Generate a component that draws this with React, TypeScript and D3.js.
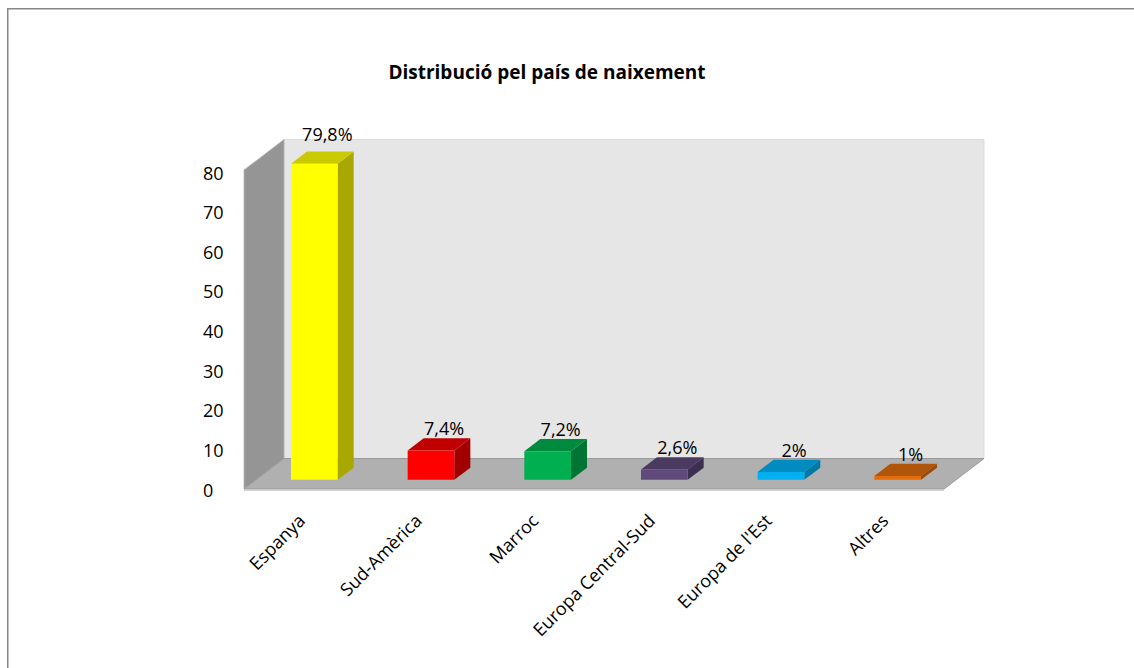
import React from "react";
import * as d3 from "d3";

const categories = ["Espanya", "Sud-Amèrica", "Marroc", "Europa Central-Sud", "Europa de l'Est", "Altres"];
const values = [79.8, 7.4, 7.2, 2.6, 2, 1];
const valueLabels = ["79,8%", "7,4%", "7,2%", "2,6%", "2%", "1%"];
const yTicks = [0, 10, 20, 30, 40, 50, 60, 70, 80];
const title = "Distribució pel país de naixement";

const frontColors = ["#ffff00", "#ff0000", "#00b050", "#604a7b", "#00b0f0", "#e46c0a"];
const topColors = ["#caca00", "#c00000", "#008a3e", "#4a3a60", "#008cc0", "#b0560a"];
const sideColors = ["#a8a800", "#a00000", "#007433", "#3d2f50", "#0078a6", "#9a4a08"];

const W = 1134;
const H = 668;
const FONT = "'Open Sans', Lato, sans-serif";

// 3D geometry
const floorLeft = 244;
const floorRight = 944;
const floorY = 489;
const DX = 40;
const DY = -30.5;
const barD0 = 0.3;
const barD1 = 0.7;

export default function App() {
  const x = d3
    .scaleBand<string>()
    .domain(categories)
    .range([floorLeft, floorRight])
    .paddingInner(0.6)
    .paddingOuter(0.3);
  const xc = d3
    .scalePoint<string>()
    .domain(categories)
    .range([floorLeft, floorRight])
    .padding(0.5);
  const y = d3.scaleLinear().domain([0, 80]).range([floorY, 172]);
  const wallTop = y(80.5);

  const pts = (p: [number, number][]) => p.map((q) => q.join(",")).join(" ");

  const leftWall = pts([
    [floorLeft, floorY],
    [floorLeft, wallTop],
    [floorLeft + DX, wallTop + DY],
    [floorLeft + DX, floorY + DY],
  ]);
  const backWall = pts([
    [floorLeft + DX, floorY + DY],
    [floorLeft + DX, wallTop + DY],
    [floorRight + DX, wallTop + DY],
    [floorRight + DX, floorY + DY],
  ]);
  const floor = pts([
    [floorLeft, floorY],
    [floorLeft + DX, floorY + DY],
    [floorRight + DX, floorY + DY],
    [floorRight, floorY],
  ]);

  const ox = DX * barD0;
  const oy = DY * barD0;
  const ddx = DX * (barD1 - barD0);
  const ddy = DY * (barD1 - barD0);

  return (
    <svg width={W} height={H} style={{ position: "absolute", left: 0, top: 0 }}>
      <rect x={0} y={0} width={W} height={H} fill="#ffffff" />
      <rect x={7.75} y={8.75} width={W + 20} height={H + 20} fill="none" stroke="#878787" strokeWidth={1.5} />
      <text x={547} y={79} textAnchor="middle" fontFamily={FONT} fontWeight="bold" fontSize={19} fill="#000">
        {title}
      </text>

      <polygon points={backWall} fill="#e6e6e6" stroke="#d6d6d6" strokeWidth={0.8} />
      <polygon points={leftWall} fill="#959595" stroke="#b4b4b4" strokeWidth={0.8} />
      <polygon points={floor} fill="#b0b0b0" stroke="#9a9a9a" strokeWidth={1} />
      <line x1={floorLeft} x2={floorRight} y1={floorY + 1.5} y2={floorY + 1.5} stroke="#d2d2d2" strokeWidth={1} />

      {yTicks.map((t) => (
        <text key={t} x={203} y={y(t) + 7.5} fontFamily={FONT} fontSize={18} fill="#000">
          {t}
        </text>
      ))}

      {categories.map((c, i) => {
        const x0 = (x(c) as number) + ox;
        const x1 = x0 + x.bandwidth();
        const yb = y(0) + oy;
        const yt = y(values[i]) + oy;
        const front = pts([
          [x0, yb],
          [x0, yt],
          [x1, yt],
          [x1, yb],
        ]);
        const top = pts([
          [x0, yt],
          [x0 + ddx, yt + ddy],
          [x1 + ddx, yt + ddy],
          [x1, yt],
        ]);
        const side = pts([
          [x1, yb],
          [x1, yt],
          [x1 + ddx, yt + ddy],
          [x1 + ddx, yb + ddy],
        ]);
        return (
          <g key={c}>
            <polygon points={side} fill={sideColors[i]} />
            <polygon points={top} fill={topColors[i]} />
            <polygon points={front} fill={frontColors[i]} />
            <text
              x={(x0 + x1) / 2 + 13}
              y={yt - 15 - 0.1 * values[i]}
              textAnchor="middle"
              fontFamily={FONT}
              fontSize={18}
              fill="#000"
            >
              {valueLabels[i]}
            </text>
          </g>
        );
      })}

      {categories.map((c) => {
        const ax = (xc(c) as number) + 4;
        const ay = 522;
        return (
          <text
            key={c}
            x={ax}
            y={ay}
            transform={`rotate(-45, ${ax}, ${ay})`}
            textAnchor="end"
            fontFamily={FONT}
            fontSize={18}
            fill="#000"
          >
            {c}
          </text>
        );
      })}
    </svg>
  );
}
